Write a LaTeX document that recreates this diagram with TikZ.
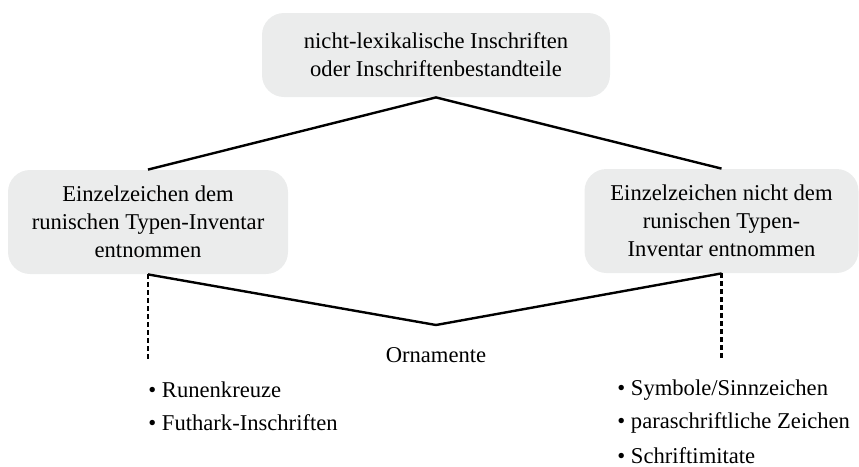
\documentclass[tikz,border=0pt]{standalone}
\usepackage{fontspec}
\setmainfont{Liberation Serif}
\begin{document}
\begin{tikzpicture}[x=0.5pt,y=-0.5pt,
  box/.style={fill=boxgray, rounded corners=11pt, align=center, inner sep=0pt,
    font=\fontsize{11.3}{14}\selectfont},
  lbl/.style={inner sep=0pt, font=\fontsize{11.3}{14}\selectfont, anchor=west},
  solidline/.style={line width=1.2pt},
  dashline/.style={line width=1.1pt, dash pattern=on 2.2pt off 1.8pt}]
\definecolor{boxgray}{HTML}{EBECEC}
\useasboundingbox (0,0) rectangle (859,467);
\node[box, minimum width=174pt, minimum height=42pt] (top) at (436,55) {nicht-lexikalische Inschriften\\oder Inschriftenbestandteile};
\node[box, minimum width=140pt, minimum height=52pt] (left) at (148,222) {Einzelzeichen dem\\runischen Typen-Inventar\\entnommen};
\node[box, minimum width=137pt, minimum height=52pt] (right) at (721.5,221) {Einzelzeichen nicht dem\\runischen Typen-\\Inventar entnommen};
\coordinate (vb) at (436,325);
\coordinate (ld) at (148,360);
\coordinate (rd) at (721.5,360);
\draw[solidline] (left.north) -- (top.south) -- (right.north);
\draw[solidline] (left.south) -- (vb) -- (right.south);
\draw[dashline] (left.south) -- (ld);
\draw[dashline] (right.south) -- (rd);
\node[inner sep=0pt, font=\fontsize{11.3}{14}\selectfont] (orn) at (436,355) {Ornamente};
\node[lbl] (l1) at (148,390) {\textbullet{} Runenkreuze};
\node[lbl] (l2) at (148,423) {\textbullet{} Futhark-Inschriften};
\node[lbl] (r1) at (617,390) {\textbullet{} Symbole/Sinnzeichen};
\node[lbl] (r2) at (617,423) {\textbullet{} paraschriftliche Zeichen};
\node[lbl] (r3) at (617,456) {\textbullet{} Schriftimitate};
\end{tikzpicture}
\end{document}
